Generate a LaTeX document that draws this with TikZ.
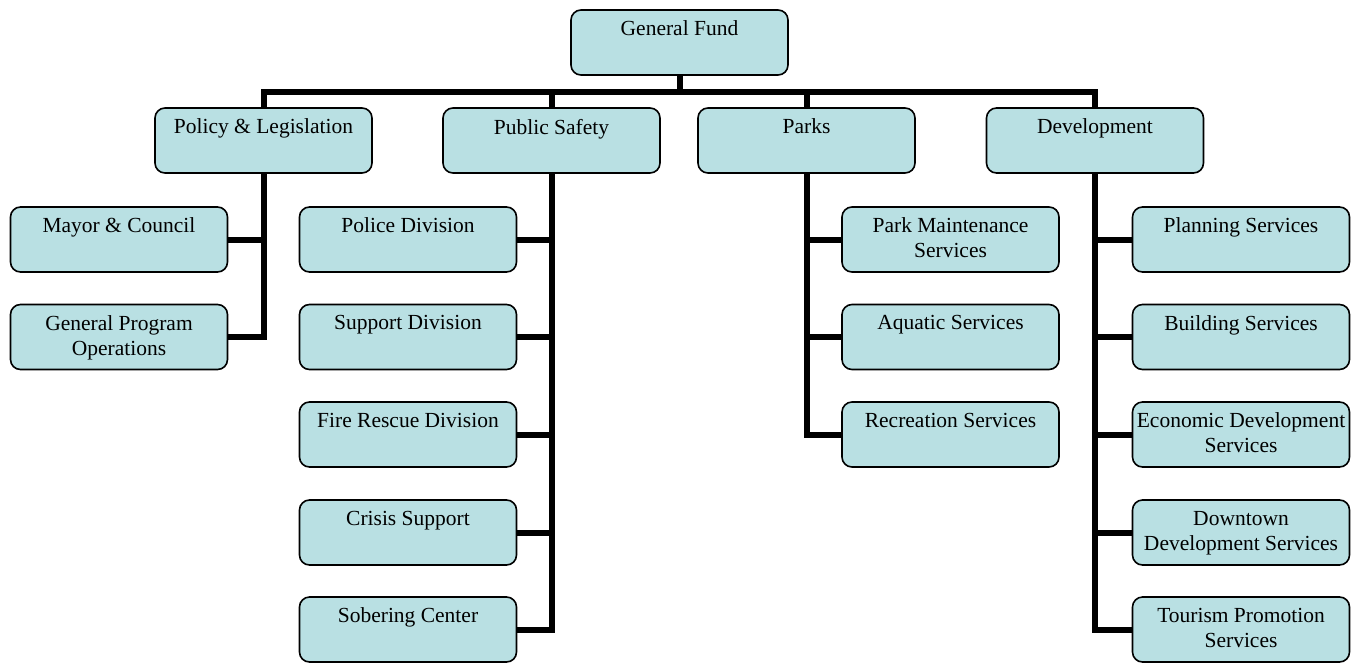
\documentclass[tikz,border=0pt]{standalone}
\usepackage{fontspec}
\setmainfont{Liberation Serif}
\definecolor{boxfill}{RGB}{185,224,227}
\newcommand{\bt}[1]{\parbox[c][65pt][t]{217pt}{\centering\vspace*{11pt}#1\par}}
\tikzset{
  orgbox/.style={draw=black, line width=1.6pt, fill=boxfill, rounded corners=10pt,
    inner sep=0pt, minimum width=217pt, minimum height=65pt,
    font=\fontsize{21.5}{25}\selectfont},
  link/.style={line width=6pt, line join=miter, draw=black}
}
\begin{document}
\begin{tikzpicture}[x=1pt,y=-1pt]
\useasboundingbox (0,0) rectangle (1354,662);
% top
\node[orgbox] (gf) at (679.5,42.5) {\bt{General Fund}};
% level 2
\node[orgbox] (pol) at (263.5,140.5) {\bt{Policy \& Legislation}};
\node[orgbox] (ps) at (551.5,140.5) {\bt{Public Safety}};
\node[orgbox] (pk) at (806.5,140.5) {\bt{Parks}};
\node[orgbox] (dev) at (1095,140.5) {\bt{Development}};
% policy children
\node[orgbox] (mc) at (119,239.5) {\bt{Mayor \& Council}};
\node[orgbox] (gpo) at (119,337) {\bt{General Program\\Operations}};
% public safety children
\node[orgbox] (pd) at (408,239.5) {\bt{Police Division}};
\node[orgbox] (sd) at (408,337) {\bt{Support Division}};
\node[orgbox] (fr) at (408,434.5) {\bt{Fire Rescue Division}};
\node[orgbox] (cs) at (408,532.5) {\bt{Crisis Support}};
\node[orgbox] (sc) at (408,629.5) {\bt{Sobering Center}};
% parks children
\node[orgbox] (pm) at (950.5,239.5) {\bt{Park Maintenance\\Services}};
\node[orgbox] (aq) at (950.5,337) {\bt{Aquatic Services}};
\node[orgbox] (rs) at (950.5,434.5) {\bt{Recreation Services}};
% development children
\node[orgbox] (pl) at (1241,239.5) {\bt{Planning Services}};
\node[orgbox] (bs) at (1241,337) {\bt{Building Services}};
\node[orgbox] (ed) at (1241,434.5) {\bt{Economic Development\\Services}};
\node[orgbox] (dd) at (1241,532.5) {\bt{Downtown\\Development Services}};
\node[orgbox] (tp) at (1241,629.5) {\bt{Tourism Promotion\\Services}};
% connectors
\coordinate (bus) at (679.5,92);
\foreach \t in {pol,ps,pk,dev}
  \draw[link] (gf.south) -- (gf.south |- bus) -| (\t.north);
\foreach \c in {mc,gpo}
  \draw[link] (pol.south) |- (\c.east);
\foreach \c in {pd,sd,fr,cs,sc}
  \draw[link] (ps.south) |- (\c.east);
\foreach \c in {pm,aq,rs}
  \draw[link] (pk.south) |- (\c.west);
\foreach \c in {pl,bs,ed,dd,tp}
  \draw[link] (dev.south) |- (\c.west);
\end{tikzpicture}
\end{document}
